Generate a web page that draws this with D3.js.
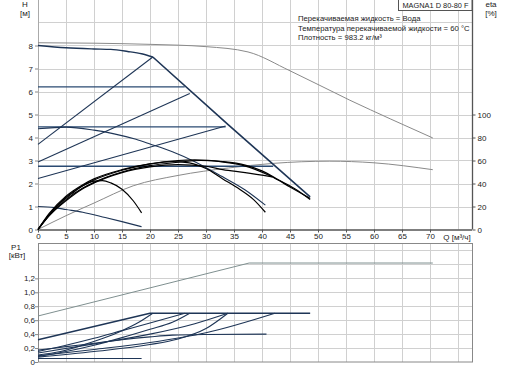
<!DOCTYPE html>
<html><head><meta charset="utf-8">
<script src="https://cdn.jsdelivr.net/npm/d3@7"></script>
<style>
html,body{margin:0;padding:0;background:#fff;}
svg text{font-family:"Liberation Sans",Arial,sans-serif;fill:#222;}
</style></head><body>
<svg id="c" width="508" height="368"></svg>
<script>
// ---------- data ----------
const title = "MAGNA1 D 80-80 F";
const infoLines = ["Перекачиваемая жидкость = Вода","Температура перекачиваемой жидкости = 60 °C","Плотность = 983.2 кг/м³"];
const qTicks = [0,5,10,15,20,25,30,35,40,45,50,55,60,65,70];
const hTicks = [0,1,2,3,4,5,6,7,8];
const etaTicks = [0,20,40,60,80,100];
const pTicks = [0,0.2,0.4,0.6,0.8,1.0,1.2];
const pTickLabels = ["0","0,2","0,4","0,6","0,8","1,0","1,2"];

// QH curves [Q m3/h, H m]
const hGrayMax = [[0,8.12],[10,8.1],[20,8.05],[30,7.95],[37.5,7.72],[45,6.9],[55.7,5.62],[63,4.8],[70.5,3.98]];
const hMax = [[0,8.0],[5,7.9],[10,7.85],[13,7.83],[16,7.74],[18.5,7.64],[20.5,7.5],[34,4.55],[48.6,1.42]];
const hConst1 = [[0,6.2],[26.2,6.2]];
const hConst2 = [[0,4.46],[33.5,4.46]];
const hConst3 = [[0,2.75],[42,2.75]];
const hProp1 = [[0,3.7],[20.5,7.5]];
const hProp2 = [[0,2.93],[27.1,5.91]];
const hProp3 = [[0,2.22],[33.5,4.5]];
const hCurve = [[0,4.38],[5,4.45],[10,4.32],[13.4,4.17],[17.5,3.92],[20,3.72],[24,3.38],[28,2.95],[32.9,2.3],[37,1.72],[40.6,1.06]];
const hMin = [[0,1.0],[3,0.95],[5,0.87],[8,0.75],[12,0.52],[15,0.34],[18.5,0.12]];

// eta curves [Q, %]
const etaGray = [[0,0],[5,12],[10,23],[17,38],[25,47],[34,53.5],[42,57.5],[52,59.4],[60,58],[70.5,52]];
const eta1 = [[0,0],[2,13],[4,23],[6,31],[8,38],[10,42],[11.5,42.5],[13,40.5],[15,35],[17,25],[18.5,14.5]];
const eta2 = [[0,0],[2,14],[5,29],[8,39],[10,44],[15,52],[20,57],[24,59],[27,58],[30,53],[33,44],[36,35],[38.5,26],[40.6,15]];
const eta3 = [[0,0],[2,12],[5,26],[8,36],[10,41],[15,50],[20,55.5],[25,58.5],[29,60],[33,59],[37,56],[40,51],[43,43],[46,35],[48.6,26]];
const eta4 = [[0,0],[2,13],[5,28],[8,38],[10,43],[15,51.5],[20,57],[25,60],[28,60.5],[32.9,58.8],[36.4,56],[41.8,45.8],[45,37],[48.6,27]];
const eta5 = [[0,0],[2,12],[5,25],[8,35.5],[10,40.5],[15,49.5],[20,54.5],[25,56.5],[30,55],[33,52],[37,49.5],[41.8,45.8]];

// P1 curves [Q, kW]
const pGray = [[0,0.66],[37.7,1.42],[70.5,1.42]];
const pMax = [[0,0.32],[20,0.70],[48.6,0.70]];
const pConst1 = [[0,0.15],[5,0.24],[10,0.34],[15,0.45],[20,0.56],[26.2,0.70]];
const pProp1 = [[0,0.10],[4,0.15],[7.5,0.23],[12,0.35],[15,0.45],[18,0.57],[20.5,0.70]];
const pProp2 = [[0,0.08],[5,0.15],[10,0.24],[15,0.35],[20,0.47],[24,0.57],[27.1,0.70]];
const pConst2 = [[0,0.13],[10,0.26],[20,0.40],[28,0.55],[33.9,0.70]];
const pProp3 = [[0,0.07],[10,0.15],[20,0.25],[25,0.33],[30,0.48],[33.9,0.70]];
const pConst3 = [[0,0.09],[10,0.18],[20,0.28],[30,0.42],[42.3,0.70]];
const pCurve = [[0,0.17],[5,0.22],[10,0.27],[15,0.32],[20,0.36],[24,0.385],[30,0.395],[40.8,0.40]];
const pMin = [[0,0.05],[18.5,0.05]];

// ---------- drawing ----------
const svg = d3.select("#c");
const X0 = 38, X1 = 472;
const x = d3.scaleLinear().domain([0,77.5]).range([X0,X1]);
const yH = d3.scaleLinear().domain([0,10]).range([229.5,-0.5]);
const yEta = d3.scaleLinear().domain([0,200]).range([229.5,-0.5]);
const yP = d3.scaleLinear().domain([0,1.7]).range([362,243.5]);
const gridC = "#d0d0d0", navy = "#1e3556", axisC = "#555";
const FF = "Liberation Sans, Arial, sans-serif";

// top grid
const gTop = svg.append("g");
gTop.selectAll(".v").data(d3.range(5,80,5)).enter().append("line")
  .attr("x1",d=>x(d)+0.5).attr("x2",d=>x(d)+0.5).attr("y1",0).attr("y2",yH(0))
  .attr("stroke",gridC);
gTop.selectAll(".h").data(d3.range(1,10)).enter().append("line")
  .attr("x1",X0).attr("x2",X1).attr("y1",d=>Math.round(yH(d))+0.5).attr("y2",d=>Math.round(yH(d))+0.5)
  .attr("stroke",gridC);
gTop.append("line").attr("x1",X0+0.5).attr("x2",X0+0.5).attr("y1",0).attr("y2",yH(0)).attr("stroke","#aaa");

// bottom grid
const gBot = svg.append("g");
gBot.selectAll(".v").data(d3.range(5,80,5)).enter().append("line")
  .attr("x1",d=>x(d)+0.5).attr("x2",d=>x(d)+0.5).attr("y1",243.5).attr("y2",362)
  .attr("stroke",gridC);
gBot.selectAll(".h").data(d3.range(1,9).map(i=>i*0.2)).enter().append("line")
  .attr("x1",X0).attr("x2",X1).attr("y1",d=>Math.round(yP(d))+0.5).attr("y2",d=>Math.round(yP(d))+0.5)
  .attr("stroke",gridC);
gBot.append("rect").attr("x",X0+0.5).attr("y",243.5).attr("width",X1-X0).attr("height",118.5)
  .attr("fill","none").attr("stroke","#888");

// axes top
const xAxis = d3.axisBottom(x).tickValues(qTicks).tickSize(3).tickFormat(d3.format("d"));
const gx = svg.append("g").attr("transform",`translate(0,${yH(0)})`).call(xAxis);
gx.select(".domain").attr("d",`M${X0},0.5H${X1}`).attr("stroke",axisC).attr("stroke-width",1.3);
gx.selectAll(".tick line").attr("stroke",axisC);
gx.selectAll("text").attr("font-size",8).attr("dy","0.9em").attr("y",2).style("font-family",FF);

const yAxisL = d3.axisLeft(yH).tickValues(hTicks).tickSize(3).tickFormat(d3.format("d"));
const gyl = svg.append("g").attr("transform",`translate(${X0},0)`).call(yAxisL);
gyl.select(".domain").remove();
gyl.selectAll(".tick line").attr("stroke","#888");
gyl.selectAll("text").attr("font-size",8).attr("x",-5).style("font-family",FF);

const yAxisR = d3.axisRight(yEta).tickValues(etaTicks).tickSize(3).tickFormat(d3.format("d"));
const gyr = svg.append("g").attr("transform",`translate(${X1+0.5},0)`).call(yAxisR);
gyr.select(".domain").attr("d","M0,0V229.5").attr("stroke",axisC).attr("stroke-width",1.3);
gyr.selectAll(".tick line").attr("stroke",axisC);
gyr.selectAll("text").attr("font-size",8).attr("x",5).style("font-family",FF);

// axis bottom panel
const yAxisP = d3.axisLeft(yP).tickValues(pTicks).tickSize(3).tickFormat((d,i)=>pTickLabels[i]);
const gyp = svg.append("g").attr("transform",`translate(${X0},0)`).call(yAxisP);
gyp.select(".domain").remove();
gyp.selectAll(".tick line").attr("stroke","#888");
gyp.selectAll("text").attr("font-size",8).attr("x",-3).style("font-family",FF);

// labels
const lab = (t,xx,yy,anchor,fs)=>svg.append("text").attr("x",xx).attr("y",yy).attr("font-size",fs||8).attr("text-anchor",anchor||"middle").text(t);
lab("H",25,7); lab("[м]",25,16);
lab("eta",491,7); lab("[%]",491,16);
lab("P1",16,249.5); lab("[кВт]",17,258);
lab("Q [м³/ч]",457,240);
infoLines.forEach((t,i)=>lab(t,298,21+i*9.5,"start",7.7));
svg.append("rect").attr("x",398.5).attr("y",-1).attr("width",73.5).attr("height",11.5).attr("fill","#fff").attr("stroke","#555");
lab(title,435.5,8,"middle",7.4);

// curves
const lineH = d3.line().x(d=>x(d[0])).y(d=>yH(d[1])).curve(d3.curveMonotoneX);
const lineE = d3.line().x(d=>x(d[0])).y(d=>yEta(d[1])).curve(d3.curveMonotoneX);
const lineP = d3.line().x(d=>x(d[0])).y(d=>yP(d[1])).curve(d3.curveMonotoneX);
const lineLin = (sy)=>d3.line().x(d=>x(d[0])).y(d=>sy(d[1]));
const draw = (gen,data,color,w)=>svg.append("path").attr("d",gen(data)).attr("fill","none").attr("stroke",color).attr("stroke-width",w).attr("stroke-linejoin","round");

draw(lineH,hGrayMax,"#8a8a8a",1);
draw(lineE,etaGray,"#8a8a8a",1);
[hConst1,hConst2,hConst3].forEach(d=>draw(lineLin(yH),d,"#2a4a72",1.4));
[hProp1,hProp2,hProp3].forEach(d=>draw(lineLin(yH),d,navy,1.1));
draw(lineH,hCurve,navy,1.1);
draw(lineH,hMin,navy,1.2);
[eta1,eta2,eta3,eta4,eta5].forEach(d=>draw(lineE,d,"#000",1.2));
draw(lineLin(yH),hMax.slice(6),navy,1.6);
draw(lineH,hMax.slice(0,7),navy,1.4);

draw(lineLin(yP),pGray,"#7f9090",1);
[pConst1,pProp1,pProp2,pConst2,pProp3,pConst3,pCurve,pMin].forEach(d=>draw(lineP,d,navy,1.1));
draw(lineLin(yP),pMax,navy,1.4);
</script>
</body></html>
